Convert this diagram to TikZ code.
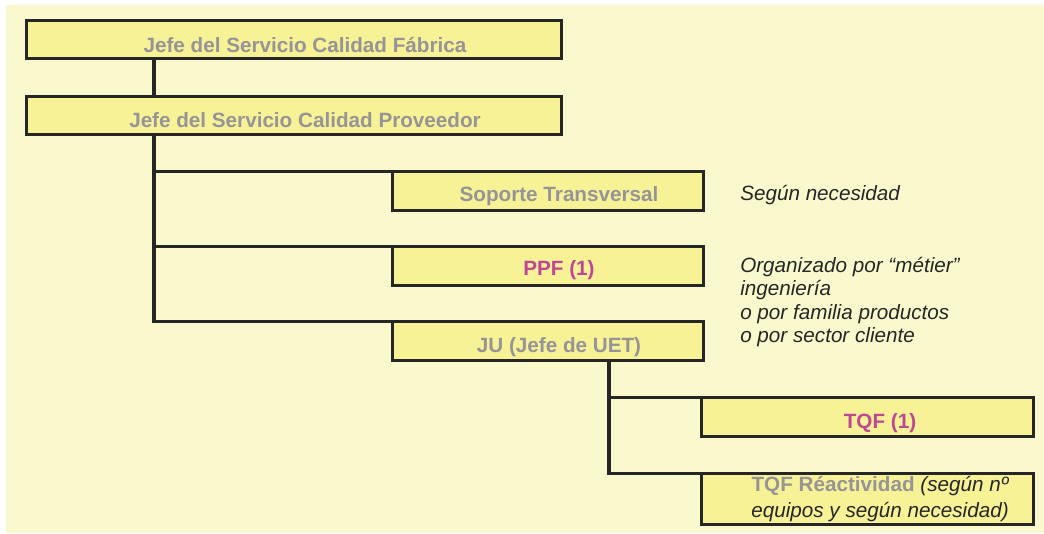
\documentclass[tikz,border=0pt]{standalone}
\usepackage{fontspec}
\setmainfont{Liberation Sans}
\definecolor{paper}{RGB}{250,248,205}
\definecolor{boxfill}{RGB}{247,242,150}
\definecolor{ink}{RGB}{38,38,38}
\definecolor{graytxt}{RGB}{150,148,150}
\definecolor{magtxt}{RGB}{190,72,150}

\begin{document}
\begin{tikzpicture}[x=0.75pt,y=-0.75pt,
  orgbox/.style={draw=ink, fill=boxfill, line width=2.6pt, outer sep=0pt, inner sep=0pt},
  link/.style={draw=ink, line width=2.3pt},
  title/.style={font=\fontsize{15.5}{17.5}\selectfont\bfseries, text=graytxt, inner sep=0pt},
  accent/.style={title, text=magtxt},
  note/.style={font=\fontsize{15.5}{17.5}\selectfont\itshape, text=ink, align=left, anchor=west, inner sep=0pt}]

% canvas
\fill[white] (0,0) rectangle (1044,533);
\fill[paper] (6,5) rectangle (1044,533);
\useasboundingbox (0,0) rectangle (1044,533);

% spines of the tree
\coordinate (spineA) at (154,0);
\coordinate (spineB) at (609,0);

% boxes
\node[orgbox, minimum width=400.875pt, minimum height=28.125pt] (fab) at (294,39.5) {};
\node[orgbox, minimum width=400.875pt, minimum height=28.125pt] (prov) at (294,115.5) {};
\node[orgbox, minimum width=232.875pt, minimum height=28.875pt] (sop) at (548,191) {};
\node[orgbox, minimum width=232.875pt, minimum height=28.875pt] (ppf) at (548,266) {};
\node[orgbox, minimum width=232.875pt, minimum height=28.875pt] (ju) at (548,341) {};
\node[orgbox, minimum width=248.625pt, minimum height=28.875pt] (tqf) at (867.5,417) {};
\node[orgbox, minimum width=248.625pt, minimum height=37.875pt] (tqfr) at (867.5,499) {};

% connectors
\draw[link] (fab.south -| spineA) -- (prov.north -| spineA);
\draw[link] (prov.south -| spineA) |- (ju.north west);
\draw[link] (spineA |- sop.north west) -- (sop.north west);
\draw[link] (spineA |- ppf.north west) -- (ppf.north west);
\draw[link] (ju.south -| spineB) |- (tqfr.north west);
\draw[link] (spineB |- tqf.north west) -- (tqf.north west);

% box labels
\node[title] (fab-t) at (305,45) {Jefe del Servicio Calidad Fábrica};
\node[title] (prov-t) at (305,120) {Jefe del Servicio Calidad Proveedor};
\node[title] (sop-t) at (559,196) {Soporte Transversal};
\node[accent] (ppf-t) at (559,270) {PPF (1)};
\node[title] (ju-t) at (559,347) {JU (Jefe de UET)};
\node[accent] (tqf-t) at (880,423) {TQF (1)};
\node[title, align=center, font=\fontsize{15.5}{19.5}\selectfont\bfseries] (tqfr-t) at (880,499)
  {TQF Réactividad {\mdseries\itshape\color{ink}(según nº}\\{\mdseries\itshape\color{ink}equipos y según necesidad)}};

% side notes
\node[note] (sop-n) at (740,195) {Según necesidad};
\node[note] (ppf-n) at (740,302) {Organizado por “métier”\\ingeniería\\o por familia productos\\o por sector cliente};
\end{tikzpicture}
\end{document}
